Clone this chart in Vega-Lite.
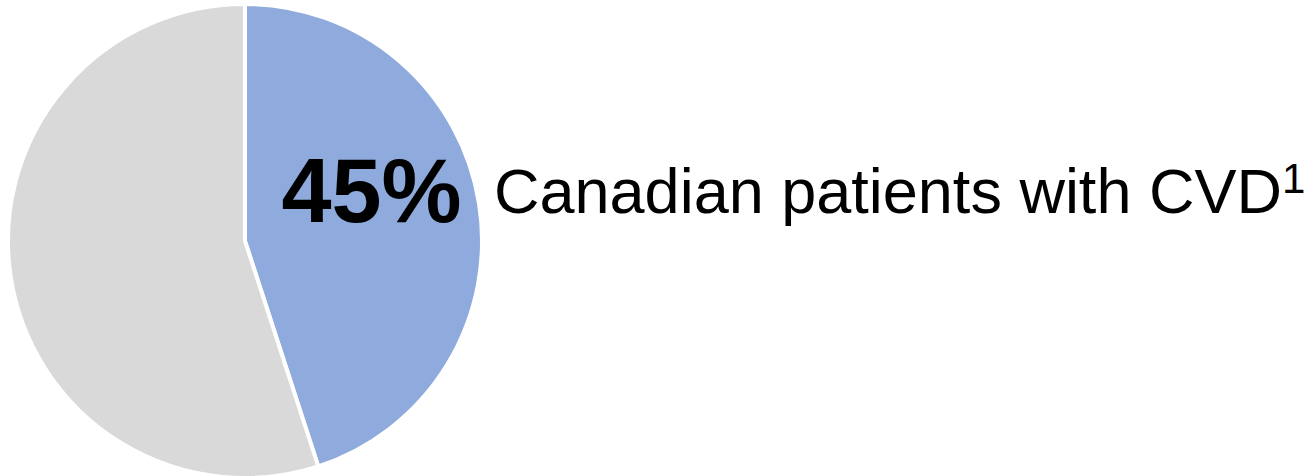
{
  "$schema": "https://vega.github.io/schema/vega-lite/v6.json",
  "width": 490,
  "height": 482,
  "padding": {"left": 0, "top": 0, "right": 820, "bottom": 0},
  "autosize": {"type": "none"},
  "background": "white",
  "view": {"stroke": null},
  "layer": [
    {
      "data": {"values": [
        {"group": "Canadian patients with CVD", "pct": 45, "rank": 1},
        {"group": "Other", "pct": 55, "rank": 2}
      ]},
      "mark": {"type": "arc", "outerRadius": 237, "stroke": "white", "strokeWidth": 4},
      "encoding": {
        "theta": {"field": "pct", "type": "quantitative", "stack": true},
        "order": {"field": "rank", "type": "quantitative"},
        "color": {
          "field": "group",
          "type": "nominal",
          "scale": {"domain": ["Canadian patients with CVD", "Other"], "range": ["#8FAADC", "#D9D9D9"]},
          "legend": null
        }
      }
    },
    {
      "data": {"values": [{"label": "45%"}]},
      "mark": {"type": "text", "font": "Liberation Sans", "fontWeight": "bold", "fontSize": 90, "align": "center", "baseline": "alphabetic", "dx": 126.5, "dy": -19, "color": "black"},
      "encoding": {"text": {"field": "label", "type": "nominal"}}
    },
    {
      "data": {"values": [{"label": "Canadian patients with CVD"}]},
      "mark": {"type": "text", "font": "Liberation Sans", "fontSize": 63, "align": "left", "baseline": "alphabetic", "dx": 249, "dy": -28, "color": "black"},
      "encoding": {"text": {"field": "label", "type": "nominal"}}
    },
    {
      "data": {"values": [{"label": "1"}]},
      "mark": {"type": "text", "font": "Liberation Sans", "fontSize": 42, "align": "left", "baseline": "alphabetic", "dx": 1037, "dy": -48, "color": "black"},
      "encoding": {"text": {"field": "label", "type": "nominal"}}
    }
  ]
}
